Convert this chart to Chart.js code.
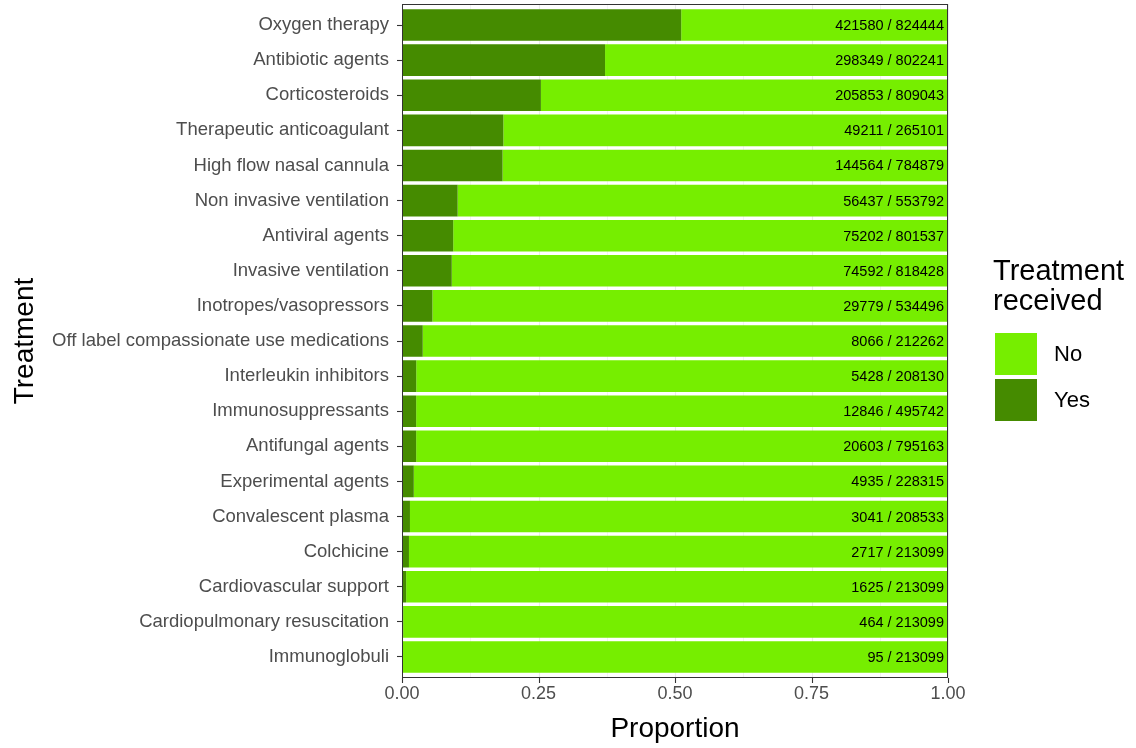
<!DOCTYPE html>
<html>
<head>
<meta charset="utf-8">
<script src="https://cdn.jsdelivr.net/npm/chart.js@4"></script>
<style>
  html, body { margin: 0; padding: 0; background: #fff; }
  #wrap { width: 1136px; height: 748px; }
</style>
</head>
<body>
<div id="wrap"><canvas id="chart" width="1136" height="748"></canvas></div>
<script>
const treatments = [
  "Oxygen therapy", "Antibiotic agents", "Corticosteroids", "Therapeutic anticoagulant",
  "High flow nasal cannula", "Non invasive ventilation", "Antiviral agents",
  "Invasive ventilation", "Inotropes/vasopressors", "Off label compassionate use medications",
  "Interleukin inhibitors", "Immunosuppressants", "Antifungal agents", "Experimental agents",
  "Convalescent plasma", "Colchicine", "Cardiovascular support",
  "Cardiopulmonary resuscitation", "Immunoglobuli"
];
const yesCounts = [421580, 298349, 205853, 49211, 144564, 56437, 75202, 74592, 29779, 8066,
  5428, 12846, 20603, 4935, 3041, 2717, 1625, 464, 95];
const totalCounts = [824444, 802241, 809043, 265101, 784879, 553792, 801537, 818428, 534496, 212262,
  208130, 495742, 795163, 228315, 208533, 213099, 213099, 213099, 213099];
const xTicks = [0, 0.25, 0.5, 0.75, 1];

const FONT = "'Liberation Sans', Arial, sans-serif";
const YES_COLOR = "#458B00";
const NO_COLOR = "#76EE00";

const yesProp = yesCounts.map((v, i) => v / totalCounts[i]);
const noProp = yesCounts.map((v, i) => 1 - v / totalCounts[i]);

// ggplot-ish panel: border, full-height grid, x ticks
const panelPlugin = {
  id: "panel",
  beforeDatasetsDraw(chart) {
    const { ctx, chartArea: a, scales: { x } } = chart;
    const top = a.top - 3.5, bottom = a.bottom + 3.5;
    ctx.save();
    for (let v = 0; v <= 1.0001; v += 0.125) {
      const px = Math.round(x.getPixelForValue(v)) + 0.5;
      const major = Math.abs(v * 4 - Math.round(v * 4)) < 1e-6;
      ctx.strokeStyle = "#EBEBEB";
      ctx.lineWidth = major ? 1.1 : 0.6;
      ctx.beginPath();
      ctx.moveTo(px, top);
      ctx.lineTo(px, bottom);
      ctx.stroke();
    }
    ctx.restore();
  },
  afterDatasetsDraw(chart) {
    const { ctx, chartArea: a, scales: { x, y } } = chart;
    const top = a.top - 3.5, bottom = a.bottom + 3.5;
    ctx.save();
    // count labels
    ctx.font = "14.5px " + FONT;
    ctx.fillStyle = "#000";
    ctx.textAlign = "right";
    ctx.textBaseline = "middle";
    treatments.forEach((_, i) => {
      ctx.fillText(yesCounts[i] + " / " + totalCounts[i], x.getPixelForValue(1) - 4, y.getPixelForValue(i) + 1);
    });
    // border
    ctx.strokeStyle = "#333333";
    ctx.lineWidth = 1;
    ctx.strokeRect(a.left + 0.5, top + 0.5, a.right - a.left - 1, bottom - top - 1);
    // x ticks
    ctx.lineWidth = 1.1;
    xTicks.forEach((v) => {
      const px = Math.round(x.getPixelForValue(v)) + 0.5;
      ctx.beginPath();
      ctx.moveTo(px, bottom);
      ctx.lineTo(px, bottom + 5);
      ctx.stroke();
    });
    ctx.restore();
  },
  afterDraw(chart) {
    const { ctx, chartArea: a } = chart;
    const lx = a.right + 45;
    ctx.save();
    ctx.fillStyle = "#000";
    ctx.font = "29px " + FONT;
    ctx.textAlign = "left";
    ctx.textBaseline = "middle";
    ctx.fillText("Treatment", lx, 272);
    ctx.fillText("received", lx, 302);
    const items = [["No", NO_COLOR], ["Yes", YES_COLOR]];
    items.forEach(([label, color], i) => {
      const top = 333 + i * 46;
      ctx.fillStyle = color;
      ctx.fillRect(lx + 2, top, 42, 42);
      ctx.fillStyle = "#000";
      ctx.font = "22px " + FONT;
      ctx.fillText(label, lx + 61, top + 22);
    });
    ctx.restore();
  }
};

new Chart(document.getElementById("chart"), {
  type: "bar",
  data: {
    labels: treatments,
    datasets: [
      { label: "Yes", data: yesProp, backgroundColor: YES_COLOR, barPercentage: 0.9, categoryPercentage: 1 },
      { label: "No", data: noProp, backgroundColor: NO_COLOR, barPercentage: 0.9, categoryPercentage: 1 }
    ]
  },
  options: {
    indexAxis: "y",
    responsive: false,
    animation: false,
    devicePixelRatio: 1,
    layout: { padding: { top: 7.5, right: 188, bottom: 0, left: 0 } },
    plugins: { legend: { display: false }, tooltip: { enabled: false } },
    scales: {
      x: {
        stacked: true,
        min: 0,
        max: 1,
        afterBuildTicks: (scale) => { scale.ticks = xTicks.map((v) => ({ value: v })); },
        afterFit: (scale) => { scale.height = 73.5; scale.paddingLeft = 0; scale.paddingRight = 0; },
        ticks: {
          color: "#4D4D4D",
          font: { family: FONT, size: 18 },
          padding: 8.5,
          maxRotation: 0,
          callback: (v) => Number(v).toFixed(2)
        },
        grid: { drawOnChartArea: false, drawTicks: false },
        border: { display: false },
        title: {
          display: true,
          text: "Proportion",
          color: "#000",
          font: { family: FONT, size: 28 },
          padding: { top: 0, bottom: 2 }
        }
      },
      y: {
        stacked: true,
        afterFit: (scale) => { scale.width = 402; scale.paddingTop = 0; scale.paddingBottom = 0; },
        ticks: {
          color: "#4D4D4D",
          font: { family: FONT, size: 18.5 },
          padding: 8,
          autoSkip: false
        },
        grid: { offset: false, drawOnChartArea: false, tickLength: 5, tickColor: "#333333", tickWidth: 1.1 },
        border: { display: false },
        title: {
          display: true,
          text: "Treatment",
          color: "#000",
          font: { family: FONT, size: 28 },
          padding: { top: 8, bottom: 0 }
        }
      }
    }
  },
  plugins: [panelPlugin]
});
</script>
</body>
</html>
